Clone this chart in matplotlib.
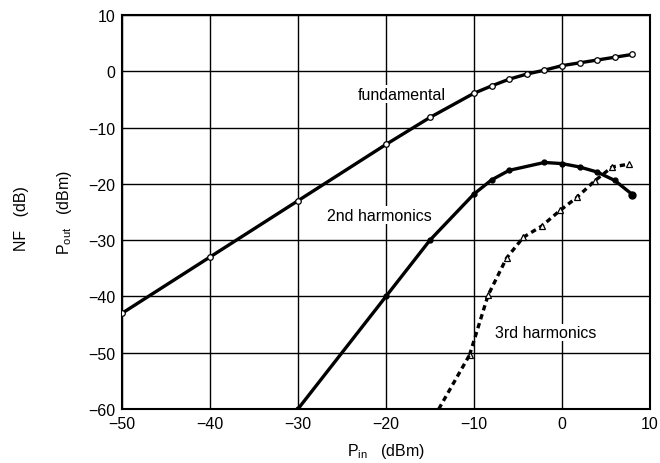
import matplotlib
matplotlib.use("Agg")
import matplotlib.pyplot as plt

plt.rcParams['font.family'] = ['Liberation Sans', 'DejaVu Sans']
plt.rcParams['mathtext.default'] = 'regular'

# fundamental (open circles)
fund_x = [-50, -40, -30, -20, -15, -10, -8, -6, -4, -2, 0, 2, 4, 6, 8]
fund_y = [-43, -33, -23, -13, -8.2, -3.9, -2.6, -1.4, -0.5, 0.2, 1.0, 1.5, 2.0, 2.5, 3.0]

# 2nd harmonics (filled dots)
h2_x = [-30, -20, -15, -10, -8, -6, -2, 0, 2, 4, 6, 8]
h2_y = [-60, -40, -30, -21.8, -19.3, -17.6, -16.2, -16.4, -17.0, -17.9, -19.4, -21.9]

# 3rd harmonics (dashed, open triangles)
h3_x = [-14, -10.5, -8.4, -6.3, -4.4, -2.3, -0.2, 1.7, 3.7, 5.7, 7.6]
h3_y = [-60, -50.4, -39.8, -33.2, -29.5, -27.5, -24.7, -22.4, -19.5, -17.0, -16.5]

fig = plt.figure(figsize=(6.6, 4.64), dpi=100)
ax = fig.add_axes([0.1848, 0.1164, 0.80, 0.8491])

ax.plot(fund_x, fund_y, color='black', lw=2.4, marker='o', ms=4,
        mfc='white', mec='black', mew=0.9, zorder=3)
ax.plot(h2_x, h2_y, color='black', lw=2.4, marker='o', ms=3.5,
        mfc='black', mec='black', zorder=3)
ax.plot(h2_x[-1], h2_y[-1], 'o', color='black', ms=5, zorder=4)
ax.plot(h3_x[1:], h3_y[1:], color='black', lw=2.4, ls=(0, (1.6, 1.2)),
        marker='^', ms=4.5, mfc='white', mec='black', mew=0.9, zorder=3)
ax.plot(h3_x[:2], h3_y[:2], color='black', lw=2.4, ls=(0, (1.6, 1.2)), zorder=3)

fs = 11.5
ax.text(-18.2, -4.1, 'fundamental', fontsize=fs, ha='center', va='center',
        bbox=dict(facecolor='white', edgecolor='none', pad=1), zorder=2)
ax.text(-20.7, -25.6, '2nd harmonics', fontsize=fs, ha='center', va='center',
        bbox=dict(facecolor='white', edgecolor='none', pad=1), zorder=2)
ax.text(-1.9, -46.4, '3rd harmonics', fontsize=fs, ha='center', va='center',
        bbox=dict(facecolor='white', edgecolor='none', pad=1), zorder=2)

ax.set_xlim(-50, 10)
ax.set_ylim(-60, 10)
ax.set_xticks(range(-50, 11, 10))
ax.set_yticks(range(-60, 11, 10))
ax.grid(True, color='black', lw=1.0)
ax.set_axisbelow(True)
ax.tick_params(length=0, labelsize=fs, pad=5)
for s in ax.spines.values():
    s.set_linewidth(1.5)

ax.set_xlabel('P$_{in}$   (dBm)', fontsize=fs, labelpad=7)
ax.set_ylabel('P$_{out}$   (dBm)', fontsize=fs, labelpad=10)
fig.text(0.033, 0.53, 'NF   (dB)', rotation=90, fontsize=fs, ha='center', va='center')

fig.savefig('out.png', dpi=100)
